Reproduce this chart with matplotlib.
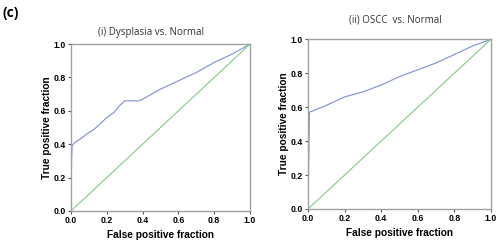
import matplotlib
matplotlib.use('Agg')
import matplotlib.pyplot as plt

# ROC curve (i) Dysplasia vs. Normal
fpr_dys = [0.0, 0.0, 0.006, 0.02, 0.05, 0.1, 0.13, 0.16, 0.2, 0.24, 0.27, 0.3, 0.38, 0.4, 0.45, 0.5, 0.6, 0.7, 0.8, 0.9, 1.0]
tpr_dys = [0.0, 0.2, 0.39, 0.41, 0.43, 0.47, 0.49, 0.52, 0.56, 0.59, 0.63, 0.66, 0.66, 0.67, 0.70, 0.73, 0.78, 0.83, 0.89, 0.94, 1.0]

# ROC curve (ii) OSCC vs. Normal
fpr_oscc = [0.0, 0.008, 0.1, 0.2, 0.3, 0.4, 0.5, 0.6, 0.7, 0.8, 0.9, 1.0]
tpr_oscc = [0.0, 0.57, 0.61, 0.66, 0.69, 0.73, 0.78, 0.82, 0.86, 0.91, 0.96, 1.0]

ref_line = [0.0, 1.0]
ticks = [0.0, 0.2, 0.4, 0.6, 0.8, 1.0]
tick_labels = ['0.0', '0.2', '0.4', '0.6', '0.8', '1.0']

blue = '#7b8ed8'
green = '#80cc80'
frame = '#a0a0a0'

fig = plt.figure(figsize=(5, 2.45), dpi=100, facecolor='white')
ax1 = fig.add_axes([0.142, 0.139, 0.358, 0.681])
ax2 = fig.add_axes([0.616, 0.147, 0.366, 0.693])


def style(ax):
    ax.set_xlim(0, 1)
    ax.set_ylim(0, 1)
    ax.set_xticks(ticks)
    ax.set_yticks(ticks)
    ax.set_xticklabels(tick_labels, fontsize=6.3, fontweight='bold', family='Liberation Sans')
    ax.set_yticklabels(tick_labels, fontsize=6.3, fontweight='bold', family='Liberation Sans')
    for s in ax.spines.values():
        s.set_color(frame)
        s.set_linewidth(1.0)
    ax.tick_params(length=2.5, width=0.8, color='#555555', pad=1)
    ax.set_xlabel('False positive fraction', fontsize=7.3, fontweight='bold', family='Liberation Sans', labelpad=4)
    ax.set_ylabel('True positive fraction', fontsize=7.3, fontweight='bold', family='Liberation Sans', labelpad=1.5)


ax1.plot(fpr_dys, tpr_dys, color=blue, lw=0.8)
ax1.plot(ref_line, ref_line, color=green, lw=0.8)
style(ax1)

ax2.plot(fpr_oscc, tpr_oscc, color=blue, lw=0.8)
ax2.plot(ref_line, ref_line, color=green, lw=0.8)
style(ax2)

fig.text(151 / 500, 1 - 32 / 245, '(i) Dysplasia vs. Normal', ha='center', va='center',
         fontsize=7, color='#333333', family='Open Sans')
fig.text(395 / 500, 1 - 20 / 245, '(ii) OSCC  vs. Normal', ha='center', va='center',
         fontsize=7, color='#333333', family='Open Sans')
fig.text(0.005, 1 - 13 / 245, '(c)', ha='left', va='center', fontsize=10, fontweight='bold',
         family='Open Sans')

fig.savefig('out.png', dpi=100)
